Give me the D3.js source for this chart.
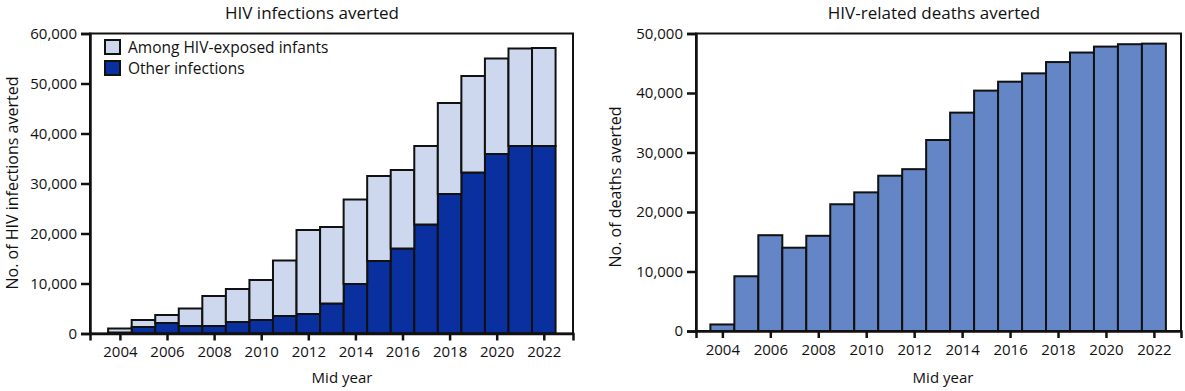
<!DOCTYPE html>
<html>
<head>
<meta charset="utf-8">
<script src="https://cdn.jsdelivr.net/npm/d3@7"></script>
<style>
  html, body { margin: 0; padding: 0; background: #fff; }
  svg { display: block; }
  text { font-family: "Open Sans", sans-serif; fill: #111; }
</style>
</head>
<body>
<svg id="chart" width="1185" height="391"></svg>
<script>
// ---- Data ----
const years = [2004,2005,2006,2007,2008,2009,2010,2011,2012,2013,2014,2015,2016,2017,2018,2019,2020,2021,2022];
const infectionsTotal = [1000,2700,3700,5000,7500,8900,10700,14600,20700,21300,26800,31500,32700,37500,46100,51500,55000,57000,57100];
const otherInfections = [200,1300,2100,1500,1500,2300,2700,3500,3900,6000,9900,14500,17000,21800,27900,32200,35900,37500,37500];
const exposedInfants = infectionsTotal.map((t, i) => t - otherInfections[i]);
const deathsAverted = [1100,9200,16100,14000,16000,21300,23300,26100,27200,32100,36700,40400,41900,43300,45200,46800,47800,48200,48300];
const xTickYears = [2004,2006,2008,2010,2012,2014,2016,2018,2020,2022];
const leftYTicks = [0,10000,20000,30000,40000,50000,60000];
const rightYTicks = [0,10000,20000,30000,40000,50000];
const seriesNames = ["Among HIV-exposed infants", "Other infections"];
const colors = { infants: "#cdd7ed", other: "#0a2f9f", deaths: "#6485c6" };

const svg = d3.select("#chart");
const fmt = d3.format(",");

function drawPanel(opt) {
  const g = svg.append("g");
  const x = d3.scaleLinear().domain(opt.xDomain).range([opt.left, opt.right]);
  const y = d3.scaleLinear().domain([0, opt.yMax]).range([opt.bottom, opt.top]);
  const halfW = (x(2005) - x(2004)) / 2;

  opt.drawBars(g, x, y, halfW);

  g.append("rect")
    .attr("x", opt.left).attr("y", opt.top)
    .attr("width", opt.right - opt.left).attr("height", opt.bottom - opt.top)
    .attr("fill", "none").attr("stroke", "#111").attr("stroke-width", 2);

  const ya = g.append("g").attr("transform", `translate(${opt.left},0)`)
    .call(d3.axisLeft(y).tickValues(opt.yTicks).tickFormat(fmt).tickSize(9).tickPadding(4));
  ya.select(".domain").attr("stroke", "#111").attr("stroke-width", 2.5);
  ya.selectAll(".tick line").attr("stroke", "#111").attr("stroke-width", 2.5);
  ya.selectAll(".tick text").style("font-size", "15px").attr("fill", "#111").style("font-family", "'Open Sans', sans-serif");

  const xa = g.append("g").attr("transform", `translate(0,${opt.bottom})`)
    .call(d3.axisBottom(x).tickValues(xTickYears).tickFormat(d3.format("d")).tickSize(7).tickPadding(6));
  xa.select(".domain").attr("stroke", "#111").attr("stroke-width", 2.5);
  xa.selectAll(".tick line").attr("stroke", "#111").attr("stroke-width", 2.5);
  xa.selectAll(".tick text").style("font-size", "15px").attr("fill", "#111").style("font-family", "'Open Sans', sans-serif");

  g.append("text").attr("x", opt.titleX).attr("y", 19).attr("text-anchor", "middle")
    .style("font-size", "17px").text(opt.title);
  g.append("text").attr("x", opt.xLabelX).attr("y", 383).attr("text-anchor", "middle")
    .style("font-size", "15px").text("Mid year");
  g.append("text").attr("transform", `translate(${opt.yLabelX},${opt.yLabelY}) rotate(-90)`)
    .attr("text-anchor", "middle").style("font-size", "16px").text(opt.yLabel);
}

drawPanel({
  left: 90, right: 573, top: 33.5, bottom: 333.5,
  xDomain: [2002.73, 2023.24], yMax: 60000, yTicks: leftYTicks,
  title: "HIV infections averted", titleX: 312,
  xLabelX: 342, yLabel: "No. of HIV infections averted", yLabelX: 18, yLabelY: 183,
  drawBars: (g, x, y, hw) => {
    const data = years.map((yr, i) => ({ year: yr, other: otherInfections[i], infants: exposedInfants[i] }));
    const stack = d3.stack().keys(["other", "infants"])(data);
    g.selectAll("g.layer").data(stack).join("g").attr("class", "layer")
      .attr("fill", d => colors[d.key])
      .selectAll("rect").data(d => d).join("rect")
      .attr("x", d => x(d.data.year) - hw)
      .attr("width", hw * 2)
      .attr("y", d => y(d[1]))
      .attr("height", d => y(d[0]) - y(d[1]))
      .attr("stroke", "#111").attr("stroke-width", 2);
    const lg = g.append("g");
    const items = [{ name: seriesNames[0], c: colors.infants }, { name: seriesNames[1], c: colors.other }];
    items.forEach((it, i) => {
      lg.append("rect").attr("x", 105).attr("y", 40 + i * 21).attr("width", 15).attr("height", 14)
        .attr("fill", it.c).attr("stroke", "#111").attr("stroke-width", 2);
      lg.append("text").attr("x", 128).attr("y", 52.5 + i * 21).style("font-size", "15.5px").text(it.name);
    });
  }
});

drawPanel({
  left: 696, right: 1181, top: 33.5, bottom: 331,
  xDomain: [2002.9, 2023.13], yMax: 50000, yTicks: rightYTicks,
  title: "HIV-related deaths averted", titleX: 934,
  xLabelX: 943, yLabel: "No. of deaths averted", yLabelX: 621, yLabelY: 187,
  drawBars: (g, x, y, hw) => {
    g.selectAll("rect.bar").data(years.map((yr, i) => ({ year: yr, v: deathsAverted[i] })))
      .join("rect").attr("class", "bar")
      .attr("x", d => x(d.year) - hw)
      .attr("width", hw * 2)
      .attr("y", d => y(d.v))
      .attr("height", d => y(0) - y(d.v))
      .attr("fill", colors.deaths)
      .attr("stroke", "#111").attr("stroke-width", 2);
  }
});
</script>
</body>
</html>
